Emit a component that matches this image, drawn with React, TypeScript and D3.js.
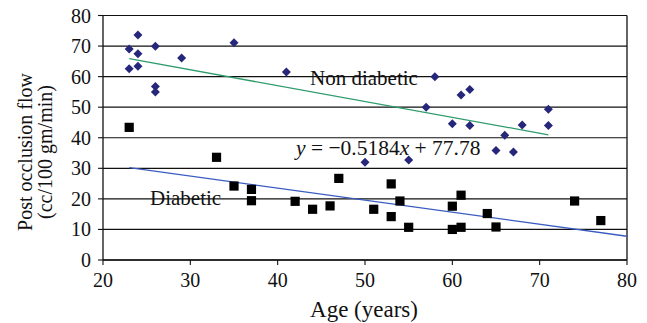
import React from "react";
import * as d3 from "d3";

const nonDiabeticAge = [23, 24, 24, 23, 24, 26, 26, 26, 29, 35, 41, 50, 55, 57, 58, 60, 61, 62, 62, 65, 66, 67, 68, 71, 71];
const nonDiabeticFlow = [69.0, 73.6, 67.5, 62.6, 63.4, 69.9, 56.8, 55.0, 66.1, 71.1, 61.5, 32.0, 32.7, 50.0, 60.0, 44.6, 54.0, 55.8, 44.0, 35.8, 40.8, 35.3, 44.2, 49.3, 44.0];

const diabeticAge = [23, 33, 35, 37, 37, 42, 44, 46, 47, 51, 53, 53, 54, 55, 60, 61, 60, 61, 64, 65, 74, 77];
const diabeticFlow = [43.4, 33.6, 24.2, 23.1, 19.4, 19.2, 16.6, 17.7, 26.7, 16.6, 24.9, 14.2, 19.3, 10.7, 17.6, 21.2, 10.0, 10.7, 15.2, 10.8, 19.3, 12.9];

const nonDiabeticTrend = { slope: -0.5184, intercept: 77.78, from: 23, to: 71 };
const diabeticTrend = { slope: -0.3935, intercept: 39.25, from: 23, to: 80 };

const xTicks = [20, 30, 40, 50, 60, 70, 80];
const yTicks = [0, 10, 20, 30, 40, 50, 60, 70, 80];

const W = 647;
const H = 323;
const FONT = "'Liberation Serif', 'Times New Roman', serif";

export default function App() {
  const x = d3.scaleLinear().domain([20, 80]).range([103, 627]);
  const y = d3.scaleLinear().domain([0, 80]).range([260, 15.5]);

  const line = d3
    .line<number>()
    .x((d) => x(d[0]))
    .y((d) => y(d[1]));

  const trendPts = (t: { slope: number; intercept: number; from: number; to: number }) =>
    [t.from, t.to].map((v) => [v, t.slope * v + t.intercept]);

  const r = 4.5;
  const diamond = (cx: number, cy: number) =>
    `M${cx},${cy - r}L${cx + r},${cy}L${cx},${cy + r}L${cx - r},${cy}Z`;
  const sq = 9.2;

  return (
    <svg
      width={W}
      height={H}
      style={{ position: "absolute", left: 0, top: 0, background: "#fff" }}
      fontFamily={FONT}
    >
      <rect x={0} y={0} width={W} height={H} fill="#fff" />
      {yTicks.map((t) => (
        <line key={"g" + t} x1={x(20)} x2={x(80)} y1={y(t)} y2={y(t)} stroke="#111" strokeWidth={1.2} />
      ))}
      <line x1={x(20)} x2={x(20)} y1={y(0)} y2={y(80)} stroke="#111" strokeWidth={1.3} />
      <line x1={x(80)} x2={x(80)} y1={y(0)} y2={y(80)} stroke="#111" strokeWidth={1.3} />
      <line x1={x(20)} x2={x(80)} y1={y(0)} y2={y(0)} stroke="#111" strokeWidth={1.3} />
      {yTicks.map((t) => (
        <g key={"yt" + t}>
          <line x1={x(20) - 5} x2={x(20)} y1={y(t)} y2={y(t)} stroke="#111" strokeWidth={1.1} />
          <text x={91} y={y(t)} dy="0.35em" textAnchor="end" fontSize={20} fill="#111">
            {t}
          </text>
        </g>
      ))}
      {xTicks.map((t) => (
        <g key={"xt" + t}>
          <line x1={x(t)} x2={x(t)} y1={y(0)} y2={y(0) + 5} stroke="#111" strokeWidth={1.1} />
          <text x={x(t)} y={287} textAnchor="middle" fontSize={20} fill="#111">
            {t}
          </text>
        </g>
      ))}
      <path d={line(trendPts(nonDiabeticTrend) as any) || ""} stroke="#2e9b6a" strokeWidth={1.3} fill="none" />
      <path d={line(trendPts(diabeticTrend) as any) || ""} stroke="#3a5cc0" strokeWidth={1.3} fill="none" />
      {nonDiabeticAge.map((a, i) => (
        <path key={"nd" + i} d={diamond(x(a), y(nonDiabeticFlow[i]))} fill="#26277a" />
      ))}
      {diabeticAge.map((a, i) => (
        <rect
          key={"d" + i}
          x={x(a) - sq / 2}
          y={y(diabeticFlow[i]) - sq / 2}
          width={sq}
          height={sq}
          fill="#000"
        />
      ))}
      <text x={310} y={85} fontSize={21} fill="#111">Non diabetic</text>
      <text x={150} y={205} fontSize={21} fill="#111">Diabetic</text>
      <text x={296} y={155} fontSize={21.5} fill="#111">
        <tspan fontStyle="italic">y</tspan>
        {" = −0.5184"}
        <tspan fontStyle="italic">x</tspan>
        {" + 77.78"}
      </text>
      <text x={364} y={316.5} textAnchor="middle" fontSize={23} fill="#111">
        Age (years)
      </text>
      <g transform="translate(32,152) rotate(-90)">
        <text x={0} y={0} textAnchor="middle" fontSize={20} fill="#111">
          Post occlusion flow
        </text>
      </g>
      <g transform="translate(52,152) rotate(-90)">
        <text x={0} y={0} textAnchor="middle" fontSize={20} fill="#111">
          (cc/100 gm/min)
        </text>
      </g>
    </svg>
  );
}
